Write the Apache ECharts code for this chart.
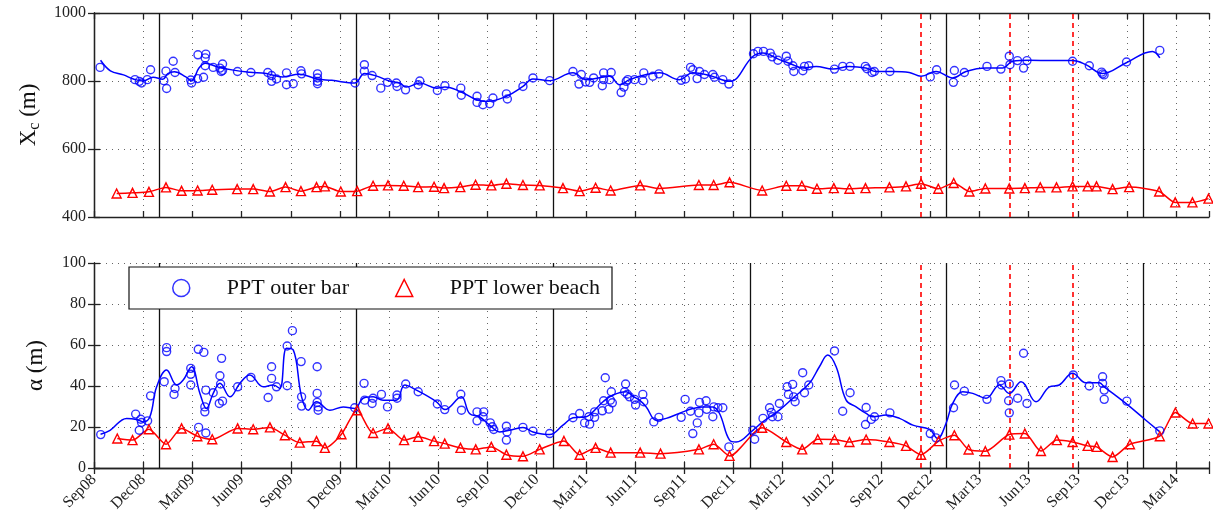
<!DOCTYPE html>
<html>
<head>
<meta charset="utf-8">
<script src="https://cdn.jsdelivr.net/npm/echarts@6/dist/echarts.min.js"></script>
<style>
  html, body { margin: 0; padding: 0; background: #fff; }
  #chart { width: 1213px; height: 522px; }
</style>
</head>
<body>
<div id="chart"></div>
<script>
// x values are months since 1 Sep 2008
var tickLabels = ['Sep08','Dec08','Mar09','Jun09','Sep09','Dec09','Mar10','Jun10','Sep10','Dec10',
  'Mar11','Jun11','Sep11','Dec11','Mar12','Jun12','Sep12','Dec12','Mar13','Jun13','Sep13','Dec13','Mar14'];

// 1 Jan of each year
var yearLines = [4, 16, 28, 40, 52, 64];
// red dashed event lines
var eventLines = [50.44, 55.82, 59.68];

// X_c, outer bar survey points
var outerBarXc = [[0.37,840],[2.5,804],[2.76,799],[2.9,794],[3.25,804],[3.45,833],[4.26,801],[4.39,829],[4.43,778],[4.83,858],[4.94,825],[5.9,803],[5.95,794],[6.32,807],[6.34,877],[6.68,811],[6.78,845],[6.78,868],[6.82,879],[7.27,840],[7.68,838],[7.76,828],[7.84,850],[7.84,831],[8.75,828],[9.57,825],[10.6,825],[10.83,816],[10.83,799],[11.13,806],[11.74,824],[11.74,789],[12.15,792],[12.62,830],[12.66,821],[13.63,821],[13.63,809],[13.63,799],[13.63,792],[15.92,794],[16.49,848],[16.49,829],[16.96,816],[17.49,779],[17.9,796],[18.44,794],[18.48,784],[19.0,774],[19.77,789],[19.87,800],[20.94,772],[21.4,786],[22.37,779],[22.4,758],[23.36,755],[23.36,737],[23.72,730],[24.13,733],[24.33,750],[25.15,762],[25.21,747],[26.16,784],[26.77,809],[27.79,801],[29.21,828],[29.58,791],[29.72,819],[29.98,797],[30.23,796],[30.47,809],[31.0,786],[31.08,804],[31.08,824],[31.44,804],[31.54,825],[32.15,766],[32.32,782],[32.46,799],[32.56,804],[32.97,804],[33.47,801],[33.53,824],[34.08,814],[34.45,821],[35.81,802],[36.07,806],[36.38,840],[36.52,833],[36.78,807],[36.93,828],[37.23,819],[37.74,819],[37.84,811],[38.35,804],[38.72,791],[40.22,880],[40.49,887],[40.83,887],[41.24,882],[41.36,871],[41.71,861],[42.22,873],[42.32,858],[42.62,845],[42.68,828],[43.23,830],[43.33,843],[43.59,845],[45.16,835],[45.66,843],[46.11,843],[47.04,843],[47.14,836],[47.45,825],[47.59,828],[48.54,828],[51.0,812],[51.39,833],[52.41,796],[52.47,831],[53.08,825],[54.46,843],[55.31,835],[55.82,873],[55.86,848],[56.32,860],[56.69,838],[56.9,860],[59.68,858],[60.7,845],[61.45,826],[61.51,821],[61.6,818],[62.97,856],[65.0,890]];

// X_c, smoothed outer bar trend
var outerBarXcTrend = [[0.4,861],[1.0,830],[1.8,818],[2.4,806],[3.0,800],[3.6,811],[4.2,805],[4.5,822],[4.9,827],[5.6,812],[5.95,800],[6.4,838],[6.8,852],[7.5,842],[8.5,832],[9.5,826],[10.5,822],[11.5,812],[12.5,820],[13.6,806],[14.5,802],[15.9,794],[16.5,822],[17.2,815],[18.0,800],[18.65,794],[19.05,782],[19.87,794],[20.9,779],[21.4,782],[22.3,770],[23.32,745],[23.93,740],[25.15,755],[26.16,784],[26.77,806],[27.79,801],[29.21,824],[30.02,804],[31.44,814],[32.05,789],[32.66,804],[33.68,819],[34.5,824],[35.7,804],[36.52,824],[37.54,816],[38.76,799],[40.18,872],[40.79,882],[41.8,863],[42.62,848],[43.23,838],[44.04,843],[45.05,835],[46.07,843],[47.08,838],[47.69,828],[48.71,828],[49.72,825],[50.44,814],[51.35,828],[52.36,809],[53.18,828],[54.4,838],[55.41,838],[56.02,858],[57.04,861],[58.46,860],[59.68,860],[60.49,848],[61.51,822],[62.93,853],[64.55,887],[65.0,868]];

// X_c, lower beach
var lowerBeachXc = [[1.38,469],[2.35,471],[3.35,474],[4.39,487],[5.34,477],[6.32,478],[7.21,480],[8.73,482],[9.71,482],[10.73,475],[11.68,488],[12.62,476],[13.57,488],[14.08,490],[15.05,475],[16.05,476],[17.02,492],[17.93,493],[18.89,492],[19.77,488],[20.74,489],[21.35,485],[22.34,488],[23.27,495],[24.23,493],[25.15,498],[26.16,494],[27.18,493],[28.6,485],[29.62,476],[30.59,486],[31.51,478],[33.31,493],[34.5,484],[36.89,494],[37.79,494],[38.76,502],[40.75,478],[42.22,492],[43.17,492],[44.09,483],[45.12,485],[46.07,483],[47.05,485],[48.51,487],[49.52,490],[50.44,498],[51.49,483],[52.43,500],[53.39,475],[54.36,484],[55.82,484],[56.77,485],[57.71,487],[58.7,487],[59.68,490],[60.6,490],[61.14,490],[62.12,482],[63.13,488],[64.96,475],[65.94,443],[66.99,443],[67.97,454]];

// alpha, outer bar survey points
var outerBarAlpha = [[0.41,16.3],[2.54,26.3],[2.85,23.8],[2.9,22.2],[2.76,18.4],[3.27,23],[3.45,35.2],[4.28,42.1],[4.43,56.8],[4.43,58.7],[4.88,35.9],[4.94,38.8],[5.9,48.6],[5.9,45.7],[5.9,40.5],[6.36,57.9],[6.38,19.8],[6.7,56.4],[6.76,29.8],[6.76,27.4],[6.82,38],[6.82,17.1],[7.27,36.7],[7.64,31.5],[7.68,45],[7.72,41],[7.78,53.5],[7.84,32.6],[8.76,39.6],[9.57,44.2],[10.62,34.4],[10.83,49.4],[10.83,43.7],[11.13,39.6],[11.78,40.1],[11.78,59.5],[12.1,67],[12.63,51.9],[12.66,34.7],[12.66,30.2],[13.61,49.4],[13.61,36.4],[13.61,32],[13.67,29.8],[13.67,28.2],[15.9,29.4],[16.47,41.3],[16.51,33.1],[16.96,31.5],[17.02,34],[17.53,35.9],[17.9,29.8],[18.48,34],[18.48,35.6],[19.01,41],[19.77,37.2],[20.94,31.2],[21.39,28.5],[22.37,36],[22.41,28.2],[23.36,27.4],[23.36,23],[23.73,25],[23.77,27.4],[24.17,22],[24.29,20.1],[24.38,18.8],[25.15,20.4],[25.19,17.6],[25.15,13.6],[26.16,19.8],[26.77,18],[27.79,16.8],[29.21,24.5],[29.62,26.6],[29.92,22],[30.23,21.4],[30.18,25],[30.53,27.4],[30.53,24.7],[31.0,27.9],[31.08,32.8],[31.18,44],[31.4,28.7],[31.49,33.1],[31.55,37.2],[31.61,31.8],[32.36,37.2],[32.42,41],[32.52,36],[32.66,34.7],[32.97,33.5],[33.03,30.7],[33.47,35.9],[33.53,32.3],[34.14,22.5],[34.45,24.7],[35.81,24.7],[36.05,33.5],[36.38,27.7],[36.52,16.8],[36.79,22],[36.89,26.9],[36.93,32],[37.33,32.8],[37.37,28.6],[37.74,25],[37.8,29.8],[38.05,29.4],[38.35,29.4],[38.72,10.3],[40.18,18.4],[40.29,14],[40.8,24.2],[41.2,29.4],[41.31,27.1],[41.37,25],[41.71,25],[41.8,31.5],[42.27,39.6],[42.35,35.9],[42.61,40.8],[42.67,34.7],[42.76,32.3],[43.22,46.5],[43.33,36.7],[43.59,40.5],[45.16,57.1],[45.66,27.7],[46.11,36.7],[47.09,29.5],[47.05,21.2],[47.4,23.7],[47.6,25],[48.54,26.9],[51.0,16.8],[51.35,14.7],[52.42,29.4],[52.48,40.5],[53.08,37.5],[54.46,33.5],[55.31,42.6],[55.35,40.5],[55.82,41],[55.78,32.8],[55.82,26.9],[56.33,34],[56.69,56],[56.9,31.5],[59.72,45.4],[60.7,40],[61.51,44.5],[61.51,41.3],[61.61,38],[61.61,33.5],[62.99,32.6],[65.0,18.1]];

// alpha, smoothed outer bar trend
var outerBarAlphaTrend = [[0.4,16.5],[0.98,18.4],[1.99,24.2],[2.6,23.7],[3.0,22.5],[3.41,25],[3.82,39.6],[4.43,47.8],[5.04,40.5],[5.44,42.9],[5.95,49.4],[6.46,36.4],[6.86,29],[7.27,36.4],[7.68,41.3],[8.29,34.7],[8.9,41.3],[9.5,45.4],[10.32,39.6],[10.93,40.5],[11.33,38.8],[11.74,58.4],[12.15,57.6],[12.66,34.7],[13.06,28.2],[13.57,32.3],[14.38,28.2],[15.2,29.8],[15.9,29],[16.41,34],[17.02,34.7],[17.63,33.1],[18.44,33.1],[18.95,40.5],[19.66,38],[20.89,32.3],[21.4,28.5],[22.4,34.7],[22.9,26.6],[23.51,25],[24.13,20.9],[24.74,17.6],[25.55,18.8],[26.16,19.8],[26.77,17.6],[27.79,16.3],[28.6,20.9],[29.21,24.5],[30.02,25],[30.43,27.4],[31.04,32.3],[31.65,35.6],[32.46,37.2],[32.86,35],[33.27,33.1],[33.68,29.8],[34.29,23.3],[34.9,24.2],[35.92,27.4],[36.52,29],[37.13,29.8],[37.74,29.8],[38.15,26.6],[38.76,13.6],[39.16,12.7],[40.18,18.4],[40.79,22.5],[41.8,28.2],[42.61,34],[43.63,41.3],[44.24,49.4],[44.75,55.1],[45.26,49.4],[45.87,33.1],[46.48,29.8],[47.09,26.6],[47.5,25],[48.32,25.8],[49.13,24.2],[49.94,20.9],[50.96,18.8],[51.45,14.4],[51.96,21.7],[52.37,31.5],[52.98,37.2],[53.59,36.4],[54.4,34],[55.22,40.5],[55.82,36.4],[56.54,42.1],[57.45,32.3],[58.27,39.6],[58.87,40.5],[59.68,46.2],[60.49,41.6],[61.3,41.6],[61.61,39.6],[62.93,31.5],[64.15,23.3],[65.0,17.6]];

// alpha, lower beach
var lowerBeachAlpha = [[1.42,14.4],[2.35,13.6],[3.35,18.9],[4.39,11.6],[5.34,19.3],[6.3,15.5],[7.21,14],[8.76,19.3],[9.71,18.9],[10.73,19.8],[11.64,16],[12.55,12.4],[13.57,13.1],[14.08,9.8],[15.09,16.5],[16.05,28.2],[17.02,17.1],[17.93,19.3],[18.91,13.6],[19.77,15.2],[20.74,13.1],[21.39,11.9],[22.35,9.8],[23.28,9.1],[24.23,10.3],[25.15,6.5],[26.16,5.7],[27.18,9.1],[28.66,13.2],[29.62,6.5],[30.59,9.8],[31.51,7.5],[33.31,7.5],[34.55,7],[36.89,9.1],[37.79,11.6],[38.76,5.9],[40.75,19.6],[42.22,12.7],[43.19,9.1],[44.14,14],[45.16,13.9],[46.07,12.7],[47.09,13.9],[48.51,12.7],[49.52,10.8],[50.44,6.5],[51.51,13.1],[52.47,16],[53.34,9],[54.36,8.2],[55.82,16.3],[56.77,16.8],[57.75,8.3],[58.72,13.6],[59.68,12.7],[60.6,10.8],[61.15,10.3],[62.12,5.4],[63.18,11.6],[65.0,15.5],[65.95,27.1],[67.0,21.7],[67.97,21.7]];

var BLUE = '#0000ff';
var RED = '#ff0000';
var FONT = 'Liberation Serif';

var chart = echarts.init(document.getElementById('chart'), null, { renderer: 'canvas' });

var dotted = { color: '#666', width: 1, type: [1, 5] };
var frame = { show: true, lineStyle: { color: '#222', width: 1.3 } };
var inTick = { show: true, inside: true, length: 6, lineStyle: { color: '#222', width: 1.3 } };

function xAxisOf(grid, pos, labels) {
  return {
    type: 'value', gridIndex: grid, position: pos, min: 0, max: 68, interval: 3,
    axisLine: frame, axisTick: inTick,
    splitLine: { show: pos === 'bottom', lineStyle: dotted },
    axisLabel: {
      show: labels, rotate: 45, margin: 9, fontFamily: FONT, fontSize: 16, color: '#222',
      formatter: function (v) { return v % 3 === 0 ? (tickLabels[v / 3] || '') : ''; }
    }
  };
}

function yAxisOf(grid, pos, min, max, step, name) {
  var left = pos === 'left';
  return {
    type: 'value', gridIndex: grid, position: pos, min: min, max: max, interval: step,
    axisLine: frame, axisTick: inTick,
    splitLine: { show: left, lineStyle: dotted },
    axisLabel: {
      show: left, margin: 8, fontFamily: FONT, fontSize: 16, color: '#222',
      formatter: function (v) { return String(v); }
    },
    name: left ? name : '', nameLocation: 'middle', nameGap: 47, nameRotate: 90,
    nameTextStyle: {
      fontFamily: FONT, fontSize: 23, color: '#111',
      rich: {
        b: { fontFamily: FONT, fontSize: 23, color: '#111' },
        s: { fontFamily: FONT, fontSize: 16, color: '#111', padding: [12, 0, 0, 0] }
      }
    }
  };
}

function markLines() {
  var d = [];
  yearLines.forEach(function (x) {
    d.push({ xAxis: x, lineStyle: { color: '#111', width: 1.3, type: 'solid' } });
  });
  eventLines.forEach(function (x) {
    d.push({ xAxis: x, lineStyle: { color: RED, width: 1.6, type: [5, 4] } });
  });
  return { silent: true, symbol: ['none', 'none'], label: { show: false }, data: d, z: 1 };
}

var circleStyle = { color: 'rgba(0,0,0,0)', borderColor: BLUE, borderWidth: 1.4 };
var triStyle = { color: 'rgba(0,0,0,0)', borderColor: RED, borderWidth: 1.4 };

var option = {
  animation: false,
  backgroundColor: '#fff',
  grid: [
    { left: 94, right: 4, top: 13, height: 204 },
    { left: 94, right: 4, top: 263, height: 205 }
  ],
  xAxis: [
    xAxisOf(0, 'bottom', false), xAxisOf(0, 'top', false),
    xAxisOf(1, 'bottom', true), xAxisOf(1, 'top', false)
  ],
  yAxis: [
    yAxisOf(0, 'left', 400, 1000, 200, '{b|X}{s|c}{b| (m)}'), yAxisOf(0, 'right', 400, 1000, 200),
    yAxisOf(1, 'left', 0, 100, 20, '{b|α (m)}'), yAxisOf(1, 'right', 0, 100, 20)
  ],
  legend: {
    left: 129, top: 267,
    orient: 'horizontal',
    backgroundColor: '#fff', borderColor: '#111', borderWidth: 1.2,
    padding: [10, 12, 10, 43],
    itemGap: 46, itemWidth: 17, itemHeight: 17,
    textStyle: { fontFamily: FONT, fontSize: 22, color: '#111', padding: [0, 0, 0, 32] },
    data: [
      { name: 'PPT outer bar', icon: 'circle', itemStyle: { color: 'rgba(0,0,0,0)', borderColor: BLUE, borderWidth: 1.5 } },
      { name: 'PPT lower beach', icon: 'triangle', itemStyle: { color: 'rgba(0,0,0,0)', borderColor: RED, borderWidth: 1.5 } }
    ]
  },
  series: [
    {
      type: 'line', xAxisIndex: 0, yAxisIndex: 0, data: outerBarXcTrend, smooth: 0.4,
      showSymbol: false, lineStyle: { color: BLUE, width: 1.5 }, markLine: markLines(), z: 2
    },
    {
      name: 'PPT outer bar', type: 'scatter', xAxisIndex: 0, yAxisIndex: 0, data: outerBarXc,
      symbol: 'circle', symbolSize: 8, itemStyle: circleStyle, z: 3
    },
    {
      name: 'PPT lower beach', type: 'line', xAxisIndex: 0, yAxisIndex: 0, data: lowerBeachXc, smooth: 0.25,
      symbol: 'triangle', symbolSize: 9, showAllSymbol: true,
      lineStyle: { color: RED, width: 1.5 }, itemStyle: triStyle, z: 3
    },
    {
      type: 'line', xAxisIndex: 2, yAxisIndex: 2, data: outerBarAlphaTrend, smooth: 0.4,
      showSymbol: false, lineStyle: { color: BLUE, width: 1.5 }, markLine: markLines(), z: 2
    },
    {
      name: 'PPT outer bar', type: 'scatter', xAxisIndex: 2, yAxisIndex: 2, data: outerBarAlpha,
      symbol: 'circle', symbolSize: 8, itemStyle: circleStyle, z: 3
    },
    {
      name: 'PPT lower beach', type: 'line', xAxisIndex: 2, yAxisIndex: 2, data: lowerBeachAlpha, smooth: 0.25,
      symbol: 'triangle', symbolSize: 9, showAllSymbol: true,
      lineStyle: { color: RED, width: 1.5 }, itemStyle: triStyle, z: 3
    }
  ]
};

chart.setOption(option);
window.addEventListener('resize', function () { chart.resize(); });
</script>
</body>
</html>
